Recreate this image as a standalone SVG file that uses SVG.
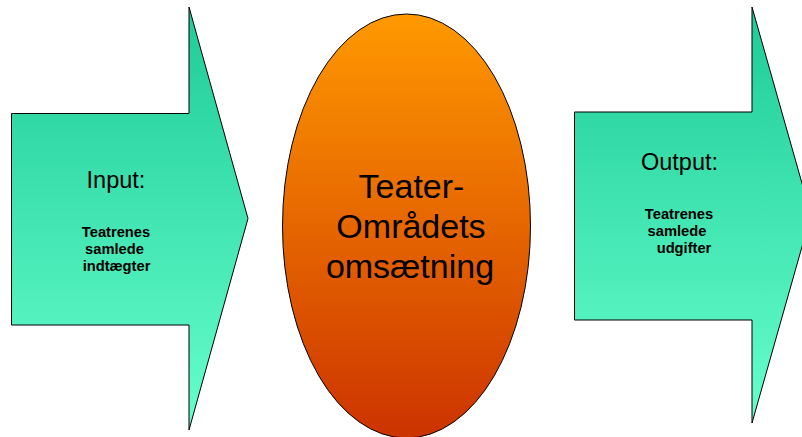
<svg xmlns="http://www.w3.org/2000/svg" width="802" height="437" viewBox="0 0 802 437">
<defs>
<linearGradient id="gArrow" x1="0" y1="0" x2="0" y2="1">
<stop offset="0" stop-color="#1ECB97"/>
<stop offset="1" stop-color="#66FFCC"/>
</linearGradient>
<linearGradient id="gOval" x1="0" y1="0" x2="0" y2="1">
<stop offset="0" stop-color="#FF9900"/>
<stop offset="1" stop-color="#CC3300"/>
</linearGradient>
<style>
.shape{stroke:#000;stroke-width:1}
.arrow{fill:url(#gArrow)}
.oval{fill:url(#gOval)}
.big{font-family:"Liberation Sans",Arial,sans-serif;font-size:23.5px;fill:#000;text-anchor:middle}
.small{font-family:"Liberation Sans",Arial,sans-serif;font-size:14.7px;font-weight:bold;fill:#000;text-anchor:middle}
.mid{font-family:"Liberation Sans",Arial,sans-serif;font-size:34px;fill:#000;text-anchor:middle}
</style>
</defs>
<rect width="802" height="437" fill="#fff"/>
<g id="connectors"></g>
<g id="input">
<path class="shape arrow" d="M11.5,113.5 H189 V7 L248,218.5 L189,430 V325 H11.5 Z"/>
<text class="big" x="116" y="188">Input:</text>
<text class="small" x="116" y="237">Teatrenes</text>
<text class="small" x="114.5" y="254">samlede</text>
<text class="small" x="116.5" y="271">indtægter</text>
</g>
<g id="center">
<ellipse class="shape oval" cx="406.5" cy="226" rx="124" ry="212"/>
<text class="mid" x="411.5" y="198">Teater-</text>
<text class="mid" x="411" y="238">Områdets</text>
<text class="mid" x="410" y="278">omsætning</text>
</g>
<g id="output">
<path class="shape arrow" d="M574.5,112 H752 V7 L811,215 L752,423 V320 H574.5 Z"/>
<text class="big" x="679.5" y="170">Output:</text>
<text class="small" x="679" y="219">Teatrenes</text>
<text class="small" x="677" y="236">samlede</text>
<text class="small" x="684" y="253">udgifter</text>
</g>
</svg>
